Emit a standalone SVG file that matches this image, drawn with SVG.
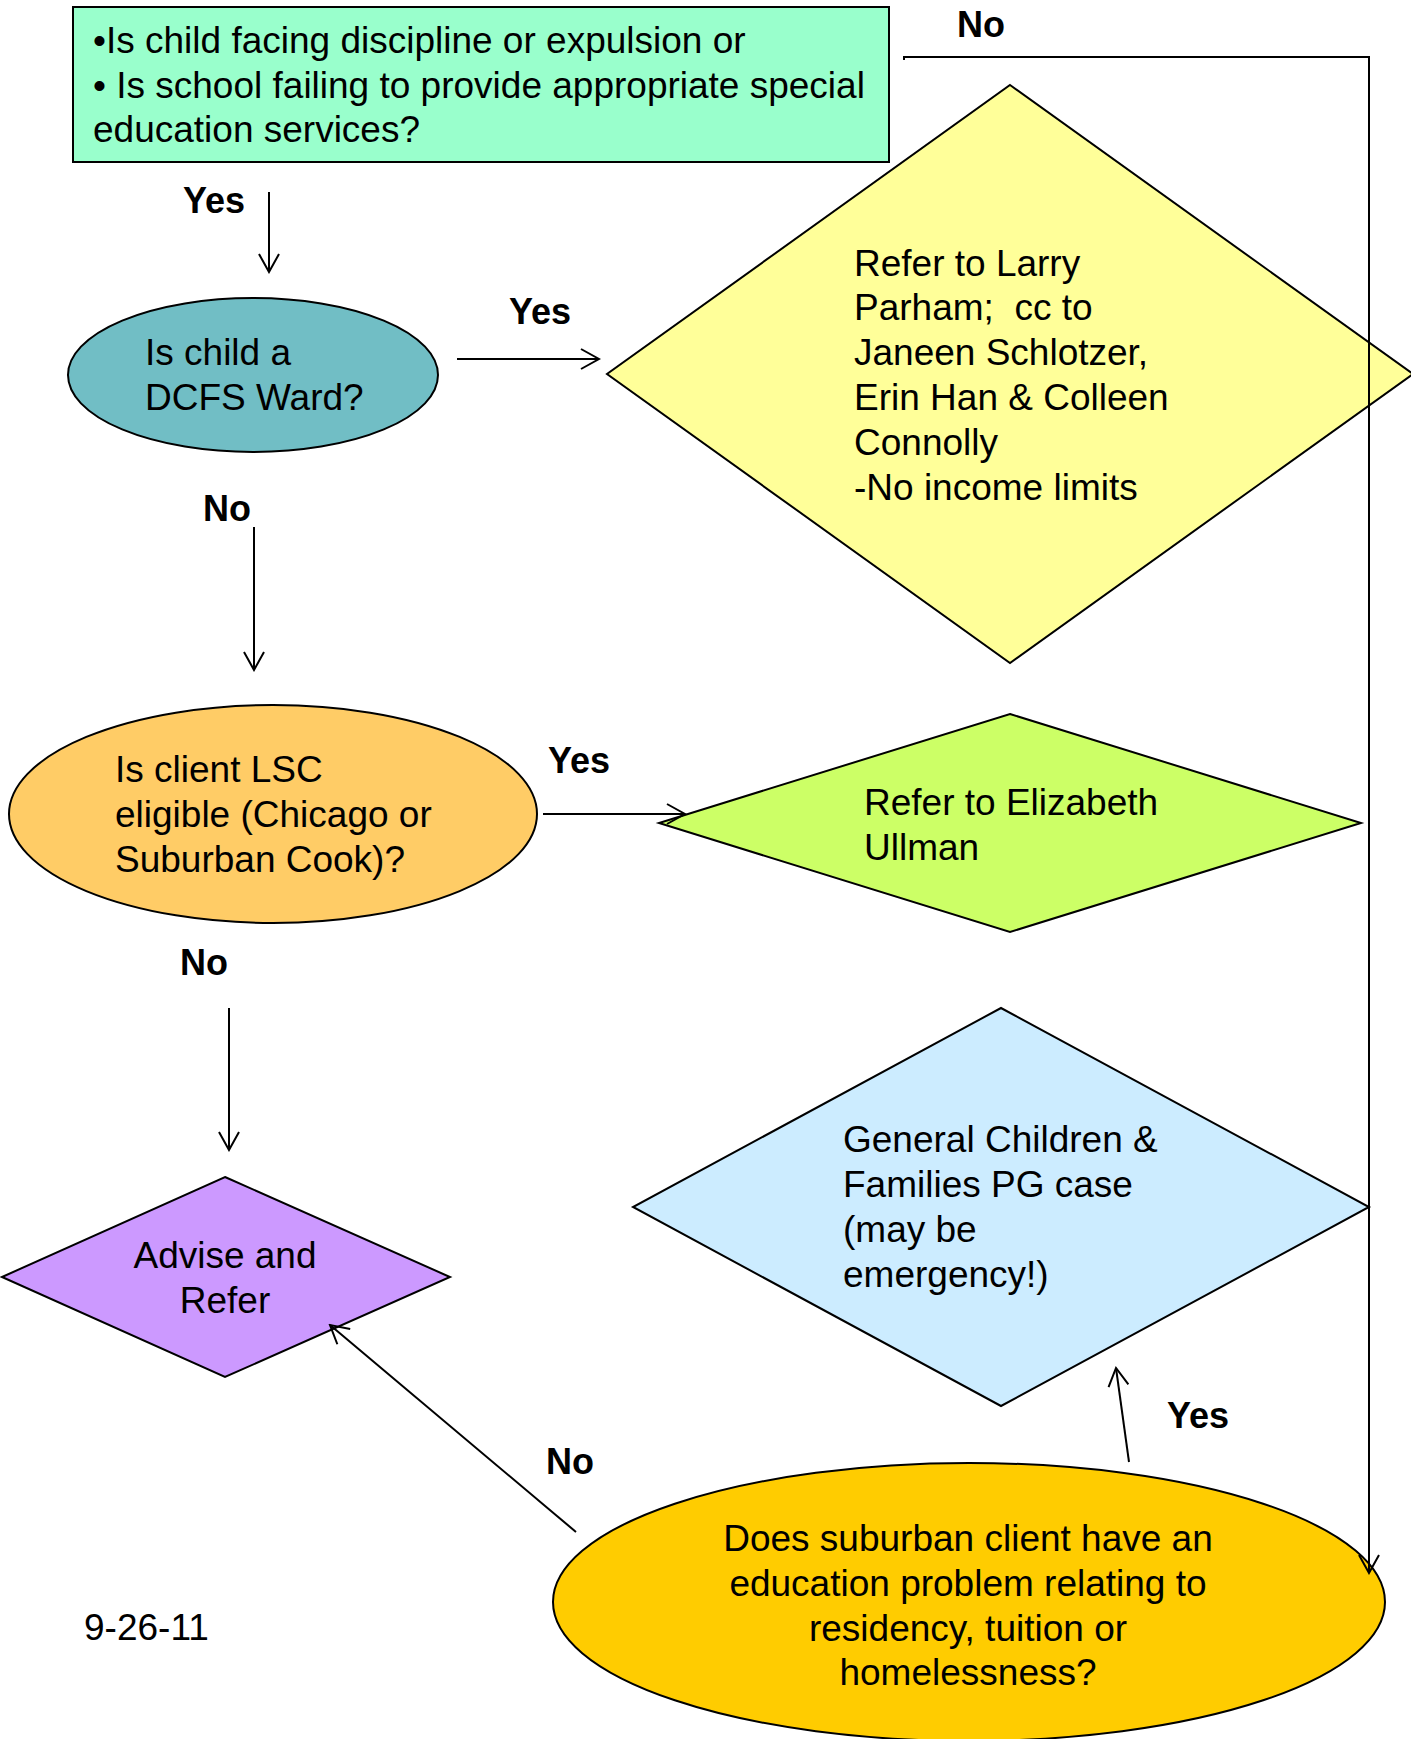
<svg xmlns="http://www.w3.org/2000/svg" width="1411" height="1739" viewBox="0 0 1411 1739">
<style>
  .shape { stroke: #000; stroke-width: 2; }
  .txt { font-family: "Liberation Sans", Arial, sans-serif; font-size: 37px; fill: #000; white-space: pre; }
  .mid { text-anchor: middle; }
  .lbl { font-family: "Liberation Sans", Arial, sans-serif; font-size: 36px; font-weight: bold; fill: #000; }
  .conn { stroke: #000; stroke-width: 2; fill: none; }
</style>
<defs>
  <marker id="arrow" viewBox="0 0 22 22" refX="20" refY="11" markerWidth="22" markerHeight="22" markerUnits="userSpaceOnUse" orient="auto">
    <path d="M2,1 L20,11 L2,21" fill="none" stroke="#000" stroke-width="2"/>
  </marker>
</defs>
<rect width="1411" height="1739" fill="#fff"/>

<g id="start">
  <rect class="shape" x="73" y="7" width="816" height="155" fill="#99FFCC"/>
  <text class="txt" x="93" y="53">•Is child facing discipline or expulsion or</text>
  <text class="txt" x="93" y="98">• Is school failing to provide appropriate special</text>
  <text class="txt" x="93" y="142">education services?</text>
</g>

<g id="dcfs">
  <ellipse class="shape" cx="253" cy="375" rx="185" ry="77" fill="#71BEC5"/>
  <text class="txt" x="145" y="365">Is child a</text>
  <text class="txt" x="145" y="410">DCFS Ward?</text>
</g>

<g id="larry">
  <polygon class="shape" points="1010,85 1413,374 1010,663 607,374" fill="#FFFF99"/>
  <text class="txt" x="854" y="276">Refer to Larry</text>
  <text class="txt" x="854" y="320">Parham;  cc to</text>
  <text class="txt" x="854" y="365">Janeen Schlotzer,</text>
  <text class="txt" x="854" y="410">Erin Han &amp; Colleen</text>
  <text class="txt" x="854" y="455">Connolly</text>
  <text class="txt" x="854" y="500">-No income limits</text>
</g>

<g id="lsc">
  <ellipse class="shape" cx="273" cy="814" rx="264" ry="109" fill="#FFCC66"/>
  <text class="txt" x="115" y="782">Is client LSC</text>
  <text class="txt" x="115" y="827">eligible (Chicago or</text>
  <text class="txt" x="115" y="872">Suburban Cook)?</text>
</g>

<g id="elizabeth">
  <polygon class="shape" points="1010,714 1361,823 1010,932 659,823" fill="#CCFF66"/>
  <text class="txt" x="864" y="815">Refer to Elizabeth</text>
  <text class="txt" x="864" y="860">Ullman</text>
</g>

<g id="general">
  <polygon class="shape" points="1001,1008 1369,1207 1001,1406 633,1207" fill="#CCECFF"/>
  <text class="txt" x="843" y="1152">General Children &amp;</text>
  <text class="txt" x="843" y="1197">Families PG case</text>
  <text class="txt" x="843" y="1242">(may be</text>
  <text class="txt" x="843" y="1287">emergency!)</text>
</g>

<g id="advise">
  <polygon class="shape" points="225,1177 450,1277 225,1377 2,1277" fill="#CC99FF"/>
  <text class="txt mid" x="225" y="1268">Advise and</text>
  <text class="txt mid" x="225" y="1313">Refer</text>
</g>

<g id="suburban">
  <ellipse class="shape" cx="969" cy="1602" rx="416" ry="139" fill="#FFCC00"/>
  <text class="txt mid" x="968" y="1551">Does suburban client have an</text>
  <text class="txt mid" x="968" y="1596">education problem relating to</text>
  <text class="txt mid" x="968" y="1641">residency, tuition or</text>
  <text class="txt mid" x="968" y="1685">homelessness?</text>
</g>

<g id="date">
  <text class="txt" x="84" y="1640">9-26-11</text>
</g>

<g id="connectors">
  <line class="conn" x1="269" y1="192" x2="269" y2="272" marker-end="url(#arrow)"/>
  <line class="conn" x1="457" y1="359" x2="599" y2="359" marker-end="url(#arrow)"/>
  <line class="conn" x1="254" y1="527" x2="254" y2="670" marker-end="url(#arrow)"/>
  <line class="conn" x1="543" y1="814" x2="685" y2="814" marker-end="url(#arrow)"/>
  <line class="conn" x1="229" y1="1008" x2="229" y2="1150" marker-end="url(#arrow)"/>
  <line class="conn" x1="576" y1="1532" x2="330" y2="1325" marker-end="url(#arrow)"/>
  <line class="conn" x1="1129" y1="1462" x2="1116" y2="1368" marker-end="url(#arrow)"/>
  <polyline class="conn" points="904,60 904,57 1369,57 1369,1573" marker-end="url(#arrow)"/>
</g>

<g id="labels">
  <text class="lbl" x="183" y="213">Yes</text>
  <text class="lbl" x="509" y="324">Yes</text>
  <text class="lbl" x="203" y="521">No</text>
  <text class="lbl" x="548" y="773">Yes</text>
  <text class="lbl" x="180" y="975">No</text>
  <text class="lbl" x="546" y="1474">No</text>
  <text class="lbl" x="1167" y="1428">Yes</text>
  <text class="lbl" x="957" y="37">No</text>
</g>
</svg>
